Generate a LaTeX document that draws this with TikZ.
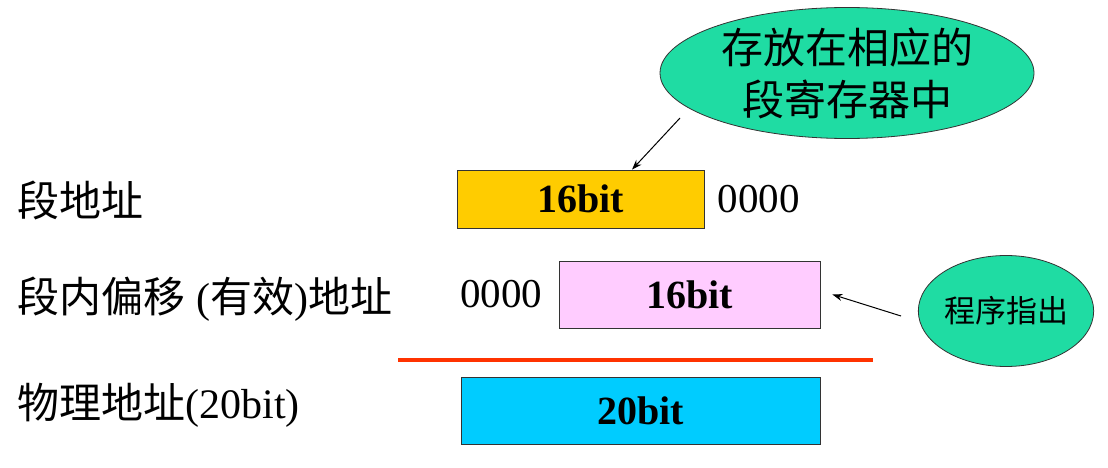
\documentclass[tikz,border=0pt]{standalone}
\usepackage{fontspec}
\setmainfont{Liberation Serif}
\newfontfamily\cjk{Noto Sans CJK SC}
\usepackage{tikz}
\usetikzlibrary{shapes.geometric, arrows.meta, positioning}
\definecolor{bubblegreen}{HTML}{1FDCA3}
\definecolor{segyellow}{HTML}{FFCC00}
\definecolor{offpink}{HTML}{FFCCFF}
\definecolor{physcyan}{HTML}{00CCFF}
\definecolor{sumred}{HTML}{FF3300}

\begin{document}
\begin{tikzpicture}[
    x=1pt, y=-1pt,
    field/.style={draw=black!80, fill=#1, line width=0.8pt, inner sep=0pt,
                  minimum height=58pt, font=\fontsize{40}{44}\selectfont\bfseries},
    bubble/.style={draw=black!80, ellipse, fill=bubblegreen, line width=0.8pt,
                   inner sep=0pt, align=center},
    label/.style={anchor=west, font=\fontsize{42}{46}\selectfont},
    zeros/.style={font=\fontsize{41}{44}\selectfont}
]
    \useasboundingbox (0,0) rectangle (1108,468);

    % register fields
    \node[field=segyellow, minimum width=247pt] (seg) at (580.5,199) {16bit};
    \node[field=offpink, minimum width=261pt, minimum height=67pt] (off) at (689.5,294.5) {16bit};
    \node[field=physcyan, minimum width=359pt, minimum height=67pt] (phy) at (640.5,410.5) {20bit};
    \node[zeros, right=10pt of seg] (segz) {0000};
    \node[zeros, left=13pt of off] (offz) {0000};

    % row labels
    \node[label] (lseg) at (14,200) {{\cjk 段地址}};
    \node[label] (loff) at (14,299) {{\cjk 段内偏移} ({\cjk 有效}){\cjk 地址}};
    \node[label] (lphy) at (14,405) {{\cjk 物理地址}(20bit)};

    % sum line
    \coordinate (sumL) at (398,360);
    \coordinate (sumR) at (873,360);
    \draw[sumred, line width=4.5pt] (sumL) -- (sumR);

    % notes
    \node[bubble, minimum width=374pt, minimum height=131pt,
          font=\cjk\fontsize{42}{52}\selectfont] (store) at (847,73) {存放在相应的\\段寄存器中};
    \node[bubble, minimum width=168pt, minimum height=111pt,
          font=\cjk\fontsize{31}{34}\selectfont] (prog) at (1006,311) {程序指出};

    \coordinate (storeT) at (680,118);
    \coordinate (progT) at (901,316);
    \draw[-{Stealth[length=10pt, width=7pt]}, line width=1pt] (storeT) -- ([xshift=51.5pt]seg.north);
    \draw[-{Stealth[length=10pt, width=7pt]}, line width=1pt] (progT) -- ([xshift=12pt]off.east);
\end{tikzpicture}
\end{document}
